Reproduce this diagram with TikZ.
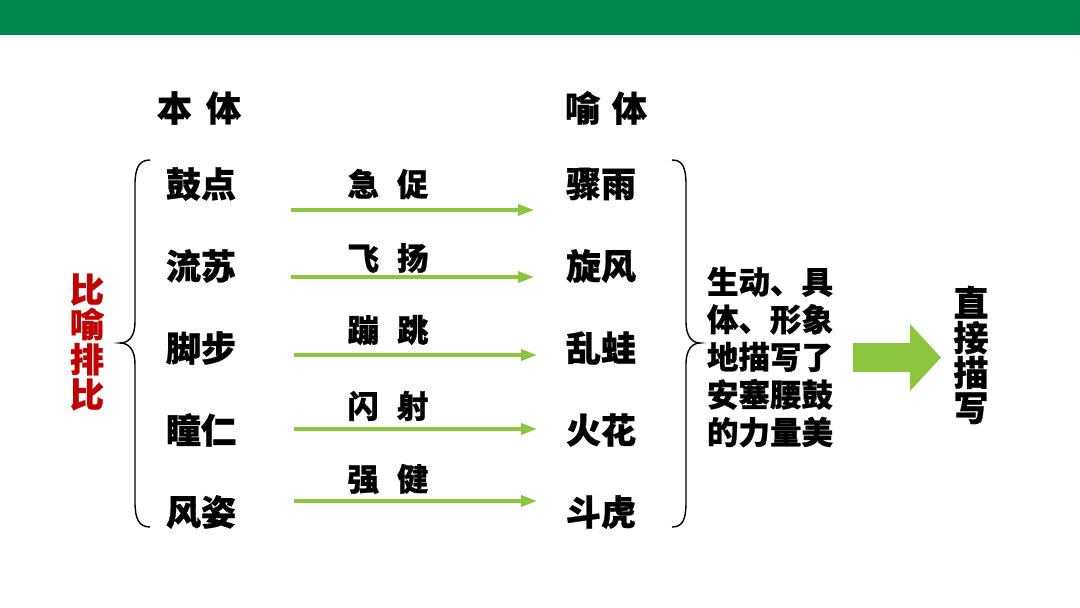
\documentclass[tikz,border=0pt]{standalone}
\usepackage{fontspec}
\newfontfamily\cjk{Noto Sans CJK SC}[BoldFeatures={FakeBold=0.8}]
\usetikzlibrary{arrows.meta}
\definecolor{bargreen}{HTML}{00864F}
\definecolor{arrgreen}{HTML}{8CC63F}
\definecolor{darkred}{HTML}{C00000}
\tikzset{
  word/.style={inner sep=0pt, font=\cjk\bfseries\fontsize{35}{38}\selectfont},
  label/.style={inner sep=0pt, font=\cjk\bfseries\fontsize{31.5}{34}\selectfont},
  thinarrow/.style={draw=arrgreen, line width=3.2pt, -{Triangle[length=16pt,width=11pt]}},
  bracestyle/.style={draw=black, line width=1.4pt},
}
\begin{document}
\begin{tikzpicture}[x=1pt,y=-1pt]
\useasboundingbox (0,0) rectangle (1080,608);
\fill[white] (0,0) rectangle (1080,608);
\fill[bargreen] (0,0) rectangle (1080,35);

% headers
\node[word] (h1) at (199,108) {本\hspace{14pt}体};
\node[word] (h2) at (606,108) {喻\hspace{12pt}体};

% left column
\node[word] (l1) at (201,184) {鼓点};
\node[word] (l2) at (201,266) {流苏};
\node[word] (l3) at (201,348) {脚步};
\node[word] (l4) at (201,430) {瞳仁};
\node[word] (l5) at (201,512) {风姿};

% right column
\node[word] (r1) at (601,184) {骤雨};
\node[word] (r2) at (601,266) {旋风};
\node[word] (r3) at (601,348) {乱蛙};
\node[word] (r4) at (601,430) {火花};
\node[word] (r5) at (601,512) {斗虎};

% middle labels
\node[label] (m1) at (388,184) {急\hspace{18pt}促};
\node[label] (m2) at (388,258) {飞\hspace{18pt}扬};
\node[label] (m3) at (388,330) {蹦\hspace{18pt}跳};
\node[label] (m4) at (388,406) {闪\hspace{18pt}射};
\node[label] (m5) at (388,479) {强\hspace{18pt}健};

% arrow ends
\coordinate (s1) at (291,210); \coordinate (e1) at (534,210);
\coordinate (s2) at (291,277); \coordinate (e2) at (534,277);
\coordinate (s3) at (294,355); \coordinate (e3) at (537,355);
\coordinate (s4) at (294,429); \coordinate (e4) at (537,429);
\coordinate (s5) at (294,501); \coordinate (e5) at (537,501);
\foreach \i in {1,...,5}{\draw[thinarrow] (s\i) -- (e\i);}

% left brace
\draw[bracestyle] (150,160) .. controls (139,160) and (135,168) .. (135,185)
  -- (135,322) .. controls (135,336) and (129,343) .. (120,343)
  .. controls (129,343) and (135,350) .. (135,364)
  -- (135,502) .. controls (135,519) and (139,527) .. (150,527);

% right brace
\draw[bracestyle] (672,160) .. controls (683,160) and (686,168) .. (686,185)
  -- (686,322) .. controls (686,336) and (692,343) .. (700,343)
  .. controls (692,343) and (686,350) .. (686,364)
  -- (686,502) .. controls (686,519) and (683,527) .. (672,527);

% red vertical label
\node[inner sep=0pt, align=center, text=darkred,
  font=\cjk\bfseries\fontsize{34}{35}\selectfont] (bl) at (87,342) {比\\喻\\排\\比};

% summary text
\node[inner sep=0pt, align=left,
  font=\cjk\bfseries\fontsize{31.5}{37.6}\selectfont] (sum) at (770,357)
  {生动、具\\体、形象\\地描写了\\安塞腰鼓\\的力量美};

% block arrow
\fill[arrgreen] (853,343) -- (910,343) -- (910,324) -- (941,357.5)
  -- (910,391) -- (910,372) -- (853,372) -- cycle;

% direct description
\node[inner sep=0pt, align=center,
  font=\cjk\bfseries\fontsize{35}{35}\selectfont] (zj) at (971,355) {直\\接\\描\\写};
\end{tikzpicture}
\end{document}
